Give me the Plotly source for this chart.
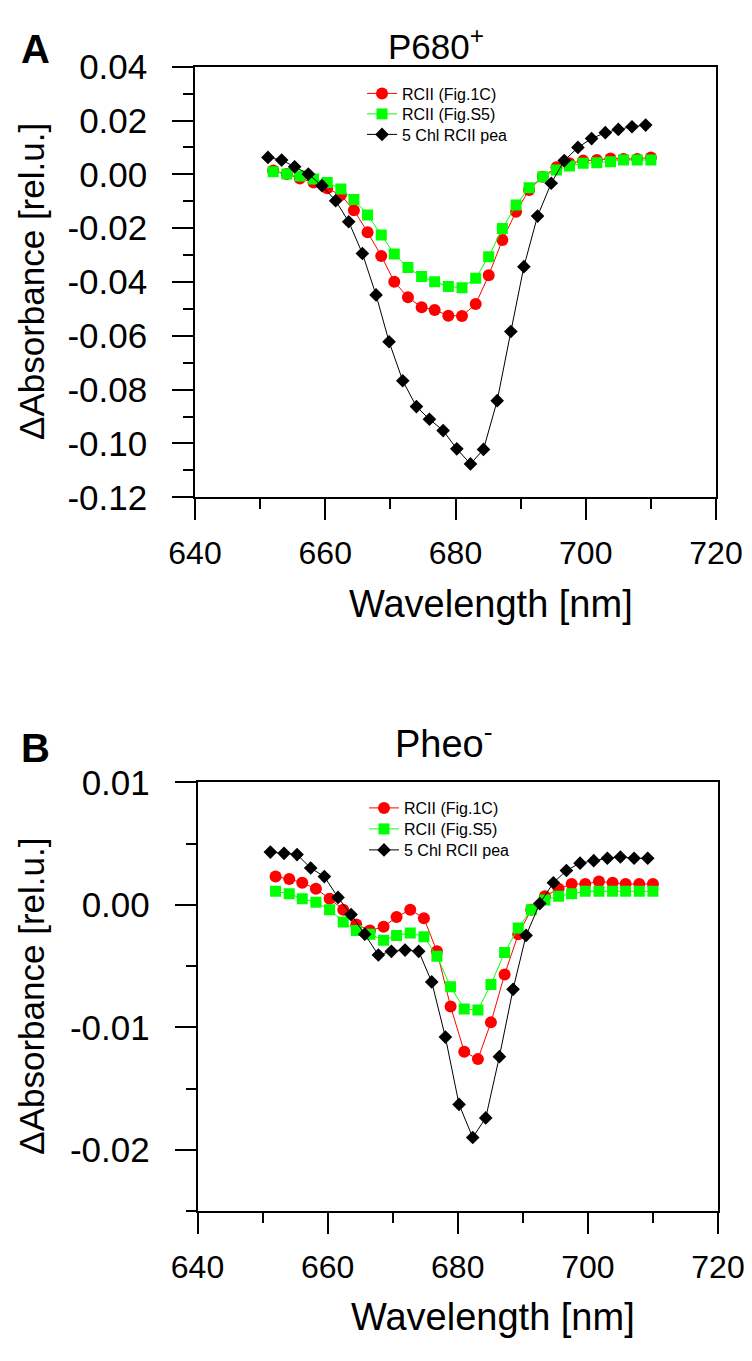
import plotly.graph_objects as go

# wavelengths (nm)
wl_pea = [651.2, 653.3, 655.3, 657.4, 659.5, 661.6, 663.6, 665.7, 667.8, 669.8,
          671.9, 674.0, 676.0, 678.1, 680.2, 682.3, 684.3, 686.4, 688.5, 690.5,
          692.6, 694.7, 696.7, 698.8, 700.9, 703.0, 705.0, 707.1, 709.2]
wl_rcii = [652.0, 654.1, 656.1, 658.2, 660.3, 662.4, 664.4, 666.5, 668.6, 670.6,
           672.7, 674.8, 676.8, 678.9, 681.0, 683.1, 685.1, 687.2, 689.3, 691.3,
           693.4, 695.5, 697.5, 699.6, 701.7, 703.8, 705.8, 707.9, 710.0]

# panel A: P680+
p680_fig1c = [0.0014, 0.0001, -0.0015, -0.0030, -0.0052, -0.0077, -0.0133, -0.0215, -0.0303, -0.0399,
              -0.0457, -0.0494, -0.0504, -0.0525, -0.0526, -0.0482, -0.0375, -0.0244, -0.0139, -0.0058,
              -0.0009, 0.0026, 0.0041, 0.0051, 0.0053, 0.0059, 0.0057, 0.0057, 0.0063]
p680_figs5 = [0.0010, 0.0001, -0.0006, -0.0017, -0.0030, -0.0054, -0.0093, -0.0151, -0.0225, -0.0296,
              -0.0346, -0.0380, -0.0399, -0.0417, -0.0421, -0.0386, -0.0306, -0.0201, -0.0114, -0.0050,
              -0.0009, 0.0016, 0.0031, 0.0041, 0.0043, 0.0047, 0.0053, 0.0053, 0.0053]
p680_pea = [0.0063, 0.0053, 0.0028, 0.0001, -0.0042, -0.0098, -0.0176, -0.0294, -0.0448, -0.0622,
            -0.0767, -0.0863, -0.0910, -0.0952, -0.1020, -0.1076, -0.1022, -0.0841, -0.0584, -0.0343,
            -0.0155, -0.0033, 0.0051, 0.0100, 0.0133, 0.0155, 0.0167, 0.0177, 0.0183]

# panel B: Pheo-
pheo_fig1c = [0.0023, 0.0021, 0.0018, 0.0013, 0.0005, -0.0004, -0.0016, -0.0021, -0.0018, -0.0010,
              -0.0004, -0.0011, -0.0038, -0.0083, -0.0120, -0.0126, -0.0096, -0.0057, -0.0024, -0.0004,
              0.0007, 0.0013, 0.0017, 0.0017, 0.0019, 0.0018, 0.0017, 0.0017, 0.0017]
pheo_figs5 = [0.0011, 0.0009, 0.0005, 0.0002, -0.0004, -0.0014, -0.0021, -0.0024, -0.0029, -0.0025,
              -0.0023, -0.0026, -0.0042, -0.0067, -0.0085, -0.0086, -0.0065, -0.0039, -0.0019, -0.0004,
              0.0004, 0.0007, 0.0009, 0.0011, 0.0011, 0.0011, 0.0011, 0.0011, 0.0011]
pheo_pea = [0.0043, 0.0042, 0.0041, 0.0030, 0.0023, 0.0006, -0.0008, -0.0024, -0.0041, -0.0038,
            -0.0037, -0.0038, -0.0063, -0.0108, -0.0163, -0.0190, -0.0174, -0.0124, -0.0069, -0.0025,
            0.0001, 0.0018, 0.0028, 0.0034, 0.0036, 0.0038, 0.0039, 0.0038, 0.0038]

series_names = ["RCII (Fig.1C)", "RCII (Fig.S5)", "5 Chl RCII pea"]

x_ticks = [640, 660, 680, 700, 720]
x_ticktext = ["640", "660", "680", "700", "720"]
ya_ticks = [0.04, 0.02, 0.0, -0.02, -0.04, -0.06, -0.08, -0.10, -0.12]
ya_ticktext = ["0.04", "0.02", "0.00", "-0.02", "-0.04", "-0.06", "-0.08", "-0.10", "-0.12"]
yb_ticks = [0.01, 0.0, -0.01, -0.02]
yb_ticktext = ["0.01", "0.00", "-0.01", "-0.02"]

# the page body has an 8px margin, so the figure sits at (8, 8) in the window
OFF = 8
W, H = 752 - OFF, 1361 - 2 * OFF
FONT = "Liberation Sans, Arial, sans-serif"


def px_x(x):
    return (x - OFF) / W


def px_y(y):
    return 1 - (y - OFF) / H


styles = [
    dict(color="#FF0000", symbol="circle", size=12),
    dict(color="#00FF00", symbol="square", size=11),
    dict(color="#000000", symbol="diamond", size=10.5),
]

fig = go.Figure()

# one legend per entry so the rows can sit as tightly as in the original
panels = [
    ("x", "y", ["legend", "legend2", "legend3"], [wl_rcii, wl_rcii, wl_pea], [p680_fig1c, p680_figs5, p680_pea]),
    ("x2", "y2", ["legend4", "legend5", "legend6"], [wl_rcii, wl_rcii, wl_pea], [pheo_fig1c, pheo_figs5, pheo_pea]),
]
for xa, ya, legs, xs, ys in panels:
    for name, st, leg, xv, yv in zip(series_names, styles, legs, xs, ys):
        fig.add_trace(go.Scatter(
            x=xv, y=yv, name=name, mode="lines+markers",
            xaxis=xa, yaxis=ya, legend=leg, showlegend=True,
            line=dict(color=st["color"], width=1),
            marker=dict(color=st["color"], symbol=st["symbol"], size=st["size"]),
        ))


def xaxis_style(domain, anchor):
    return dict(
        domain=domain, anchor=anchor, range=[640, 720], automargin=False,
        tickmode="array", tickvals=x_ticks, ticktext=x_ticktext,
        ticks="outside", ticklen=21, tickwidth=1.5, tickcolor="black",
        minor=dict(tickmode="linear", tick0=640, dtick=10, ticks="outside",
                   ticklen=10, tickwidth=1.5, tickcolor="black"),
        showline=True, linecolor="black", linewidth=1.5, mirror=True,
        showgrid=False, zeroline=False, ticklabelstandoff=6,
        tickfont=dict(family=FONT, size=32, color="black"),
    )


def yaxis_style(domain, anchor, rng, vals, text, minor_dtick):
    return dict(
        domain=domain, anchor=anchor, range=rng, automargin=False,
        tickmode="array", tickvals=vals, ticktext=text,
        ticks="outside", ticklen=21, tickwidth=1.5, tickcolor="black",
        minor=dict(tickmode="linear", tick0=0, dtick=minor_dtick, ticks="outside",
                   ticklen=10, tickwidth=1.5, tickcolor="black"),
        showline=True, linecolor="black", linewidth=1.5, mirror=True,
        showgrid=False, zeroline=False, ticklabelstandoff=18,
        tickfont=dict(family=FONT, size=35, color="black"),
    )


def legend_at(x, y):
    return dict(
        x=px_x(x), y=px_y(y), xanchor="left", yanchor="middle",
        bgcolor="rgba(0,0,0,0)", borderwidth=0, visible=True,
        font=dict(family=FONT, size=16, color="black"),
    )


fig.update_layout(
    width=W, height=H, margin=dict(l=0, r=0, t=0, b=0, autoexpand=False),
    paper_bgcolor="white", plot_bgcolor="white", showlegend=True,
    xaxis=xaxis_style([px_x(195), px_x(716)], "y"),
    yaxis=yaxis_style([px_y(497.3), px_y(66.7)], "x", [-0.12, 0.04], ya_ticks, ya_ticktext, 0.01),
    xaxis2=xaxis_style([px_x(197.5), px_x(718)], "y2"),
    yaxis2=yaxis_style([px_y(1211), px_y(782.3)], "x2", [-0.025, 0.01], yb_ticks, yb_ticktext, 0.005),
    legend=legend_at(362, 93.5),
    legend2=legend_at(362, 114),
    legend3=legend_at(362, 134.5),
    legend4=legend_at(364, 808),
    legend5=legend_at(364, 829),
    legend6=legend_at(364, 850),
)

annotations = [
    dict(text="<b>A</b>", x=35, y=49, size=40, xanchor="center"),
    dict(text="<b>B</b>", x=35, y=748, size=40, xanchor="center"),
    dict(text="P680<sup>+</sup>", x=386, y=44, size=35, xanchor="left"),
    dict(text="Pheo<sup>-</sup>", x=393, y=741, size=38, xanchor="left"),
    dict(text="Wavelength [nm]", x=491, y=604, size=38, xanchor="center"),
    dict(text="Wavelength [nm]", x=493, y=1317, size=38, xanchor="center"),
]
for a in annotations:
    fig.add_annotation(
        text=a["text"], x=px_x(a["x"]), y=px_y(a["y"]), xref="paper", yref="paper",
        xanchor=a["xanchor"], yanchor="middle", showarrow=False,
        font=dict(family=FONT, size=a["size"], color="black"),
    )

for yc in [282, 996.7]:
    fig.add_annotation(
        text="ΔAbsorbance [rel.u.]", x=px_x(32), y=px_y(yc), xref="paper", yref="paper",
        xanchor="center", yanchor="middle", textangle=-90, showarrow=False,
        font=dict(family=FONT, size=35, color="black"),
    )

fig.write_html("out.html")
